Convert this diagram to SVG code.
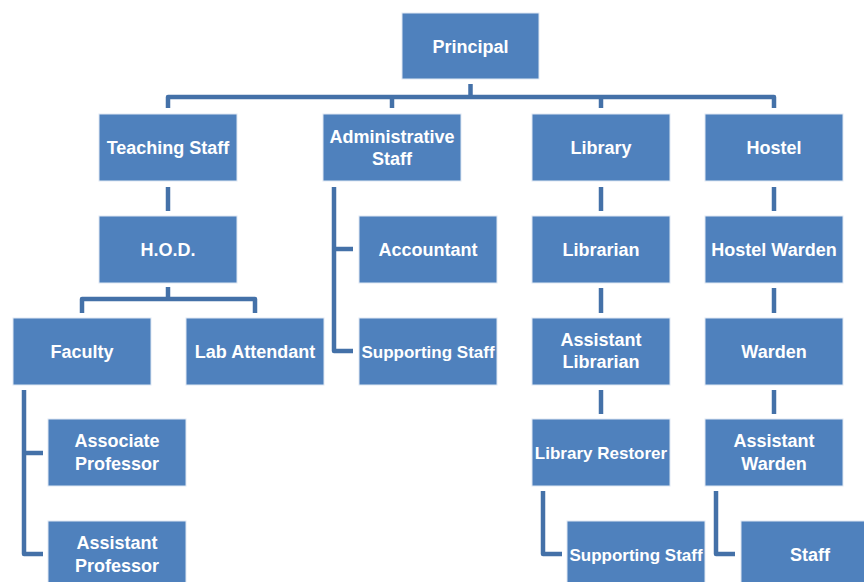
<svg xmlns="http://www.w3.org/2000/svg" width="864" height="582" viewBox="0 0 864 582">
<style>
.box{fill:#4f81bd;stroke:#dfe8f3;stroke-width:1}
.t{font-family:"Liberation Sans",Arial,sans-serif;font-weight:bold;font-size:18px;fill:#ffffff;text-anchor:middle}
.s{font-size:17px}
.c{fill:none;stroke:#4471a8;stroke-width:4.5;stroke-linejoin:round;stroke-linecap:butt}
</style>
<rect width="864" height="582" fill="#ffffff"/>
<g id="connectors">
<path class="c" d="M470.5,84 V97"/>
<path class="c" d="M168,108 V97 H774 V108"/>
<path class="c" d="M392,97 V108"/>
<path class="c" d="M601,97 V108"/>
<path class="c" d="M168,187 V211"/>
<path class="c" d="M168,287 V299"/>
<path class="c" d="M82,313 V299 H255 V313"/>
<path class="c" d="M24,390 V554 H43"/>
<path class="c" d="M24,453 H43"/>
<path class="c" d="M334,187 V351 H353"/>
<path class="c" d="M334,249 H353"/>
<path class="c" d="M601,187 V211"/>
<path class="c" d="M601,288 V313"/>
<path class="c" d="M601,390 V414"/>
<path class="c" d="M774,187 V211"/>
<path class="c" d="M774,288 V313"/>
<path class="c" d="M774,390 V414"/>
<path class="c" d="M543,491 V554 H562"/>
<path class="c" d="M716,491 V554 H735"/>
</g>
<g id="principal"><rect class="box" x="402" y="13" width="137" height="66"/><text class="t" x="470.5" y="53">Principal</text></g>
<g id="teaching-staff"><rect class="box" x="99" y="114" width="138" height="67"/><text class="t" x="168" y="154">Teaching Staff</text></g>
<g id="administrative-staff"><rect class="box" x="323" y="114" width="138" height="67"/><text class="t" x="392" y="143">Administrative</text><text class="t" x="392" y="165">Staff</text></g>
<g id="library"><rect class="box" x="532" y="114" width="138" height="67"/><text class="t" x="601" y="154">Library</text></g>
<g id="hostel"><rect class="box" x="705" y="114" width="138" height="67"/><text class="t" x="774" y="154">Hostel</text></g>
<g id="hod"><rect class="box" x="99" y="216" width="138" height="67"/><text class="t" x="168" y="256">H.O.D.</text></g>
<g id="accountant"><rect class="box" x="359" y="216" width="138" height="67"/><text class="t" x="428" y="256">Accountant</text></g>
<g id="librarian"><rect class="box" x="532" y="216" width="138" height="67"/><text class="t" x="601" y="256">Librarian</text></g>
<g id="hostel-warden"><rect class="box" x="705" y="216" width="138" height="67"/><text class="t" x="774" y="256">Hostel Warden</text></g>
<g id="faculty"><rect class="box" x="13" y="318" width="138" height="67"/><text class="t" x="82" y="358">Faculty</text></g>
<g id="lab-attendant"><rect class="box" x="186" y="318" width="138" height="67"/><text class="t" x="255" y="358">Lab Attendant</text></g>
<g id="admin-supporting-staff"><rect class="box" x="359" y="318" width="138" height="67"/><text class="t s" x="428" y="358">Supporting Staff</text></g>
<g id="assistant-librarian"><rect class="box" x="532" y="318" width="138" height="67"/><text class="t" x="601" y="346">Assistant</text><text class="t" x="601" y="368">Librarian</text></g>
<g id="warden"><rect class="box" x="705" y="318" width="138" height="67"/><text class="t" x="774" y="358">Warden</text></g>
<g id="associate-professor"><rect class="box" x="48" y="419" width="138" height="67"/><text class="t" x="117" y="447">Associate</text><text class="t" x="117" y="470">Professor</text></g>
<g id="library-restorer"><rect class="box" x="532" y="419" width="138" height="67"/><text class="t s" x="601" y="459">Library Restorer</text></g>
<g id="assistant-warden"><rect class="box" x="705" y="419" width="138" height="67"/><text class="t" x="774" y="447">Assistant</text><text class="t" x="774" y="470">Warden</text></g>
<g id="assistant-professor"><rect class="box" x="48" y="521" width="138" height="67"/><text class="t" x="117" y="549">Assistant</text><text class="t" x="117" y="572">Professor</text></g>
<g id="library-supporting-staff"><rect class="box" x="567" y="521" width="138" height="67"/><text class="t s" x="636" y="561">Supporting Staff</text></g>
<g id="staff"><rect class="box" x="741" y="521" width="138" height="67"/><text class="t" x="810" y="561">Staff</text></g>
</svg>
